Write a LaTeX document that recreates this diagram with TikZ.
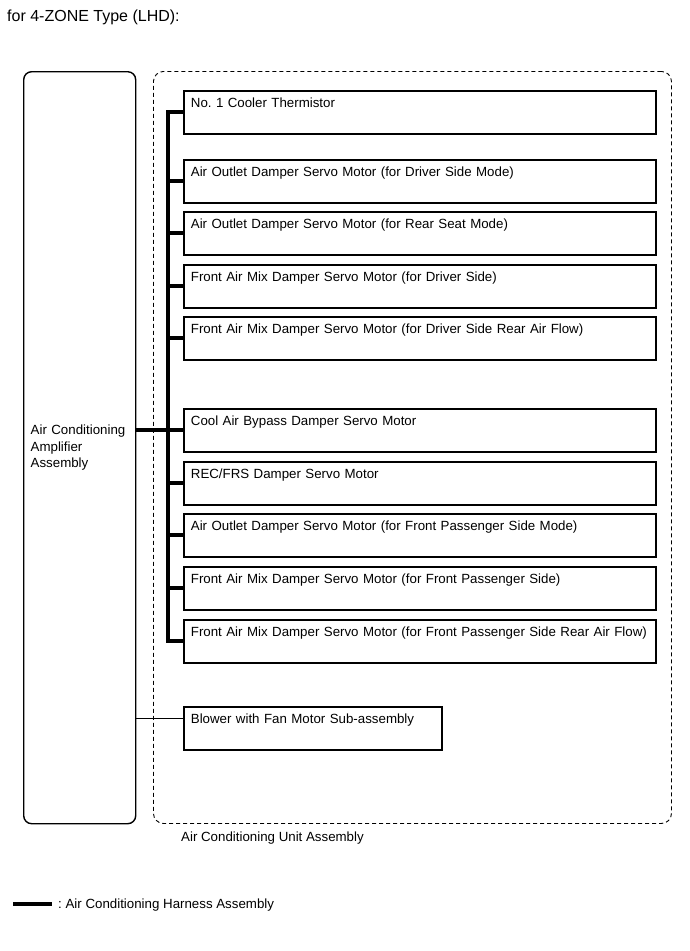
\documentclass[tikz,border=0pt]{standalone}
\usepackage{fontspec}
\setmainfont{Liberation Sans}
\usetikzlibrary{positioning, calc}
\frenchspacing

\begin{document}
\begin{tikzpicture}[
        x=1pt, y=-1pt,
        every node/.style={font=\fontsize{13.3}{16.5}\selectfont},
        part/.style={draw, line width=1.8pt, anchor=north west, align=left,
                     inner xsep=7pt, inner ysep=0pt, text height=17pt,
                     text depth=26pt, text width=458pt},
        harness/.style={line width=4pt},
        wire/.style={line width=1pt},
      ]
      \useasboundingbox (0,0) rectangle (690,951);
      \node[anchor=base west, inner sep=0pt, font=\fontsize{16}{19}\selectfont] (title) at (7,21.5) {for 4-ZONE Type (LHD):};

      % amplifier and unit outline
      \node[draw, line width=1.4pt, rounded corners=8pt, anchor=north west,
            minimum width=112pt, minimum height=752pt, inner xsep=7pt,
            text width=98pt, align=left] (amp) at (23,71)
        {Air Conditioning\\Amplifier\\Assembly\\[-10pt]};
      \node[draw, line width=0.9pt, dash pattern=on 4pt off 3pt, rounded corners=10pt,
            anchor=north west, minimum width=518pt, minimum height=752pt] (unit) at (153,71) {};
      \node[anchor=base west, inner sep=0pt] (unitlbl) at (181,841) {Air Conditioning Unit Assembly};

      % servo motors etc.
      \node[part] (b1) at (183,90) {No. 1 Cooler Thermistor};
      \node[part] (b2) at (183,159) {Air Outlet Damper Servo Motor (for Driver Side Mode)};
      \node[part] (b3) at (183,211) {Air Outlet Damper Servo Motor (for Rear Seat Mode)};
      \node[part] (b4) at (183,264) {Front Air Mix Damper Servo Motor (for Driver Side)};
      \node[part] (b5) at (183,316) {Front Air Mix Damper Servo Motor (for Driver Side Rear Air Flow)};
      \node[part] (b6) at (183,408) {Cool Air Bypass Damper Servo Motor};
      \node[part] (b7) at (183,461) {REC/FRS Damper Servo Motor};
      \node[part] (b8) at (183,513) {Air Outlet Damper Servo Motor (for Front Passenger Side Mode)};
      \node[part] (b9) at (183,566) {Front Air Mix Damper Servo Motor (for Front Passenger Side)};
      \node[part] (b10) at (183,619) {Front Air Mix Damper Servo Motor (for Front Passenger Side Rear Air Flow)};
      \node[part, text width=244pt] (blower) at (183,706) {Blower with Fan Motor Sub-assembly};

      % harness
      \coordinate (busx) at (168,0);
      \draw[harness] (b1.west) -| (busx |- b10.west) -- (b10.west);
      \foreach \i in {2,...,9}
        \draw[harness] (b\i.west) -- (busx |- b\i.west);
      \draw[harness] (amp.east |- b6.west) -- (busx |- b6.west);
      \coordinate (blin) at ([yshift=-12pt]blower.north west);
      \draw[wire] (amp.east |- blin) -- (blin);

      % legend
      \coordinate (keyl) at (13,904);
      \coordinate (keyr) at (52,904);
      \draw[harness] (keyl) -- (keyr);
      \node[anchor=base west, inner sep=0pt] (keytext) at (58,908) {: Air Conditioning Harness Assembly};
    \end{tikzpicture}
\end{document}
